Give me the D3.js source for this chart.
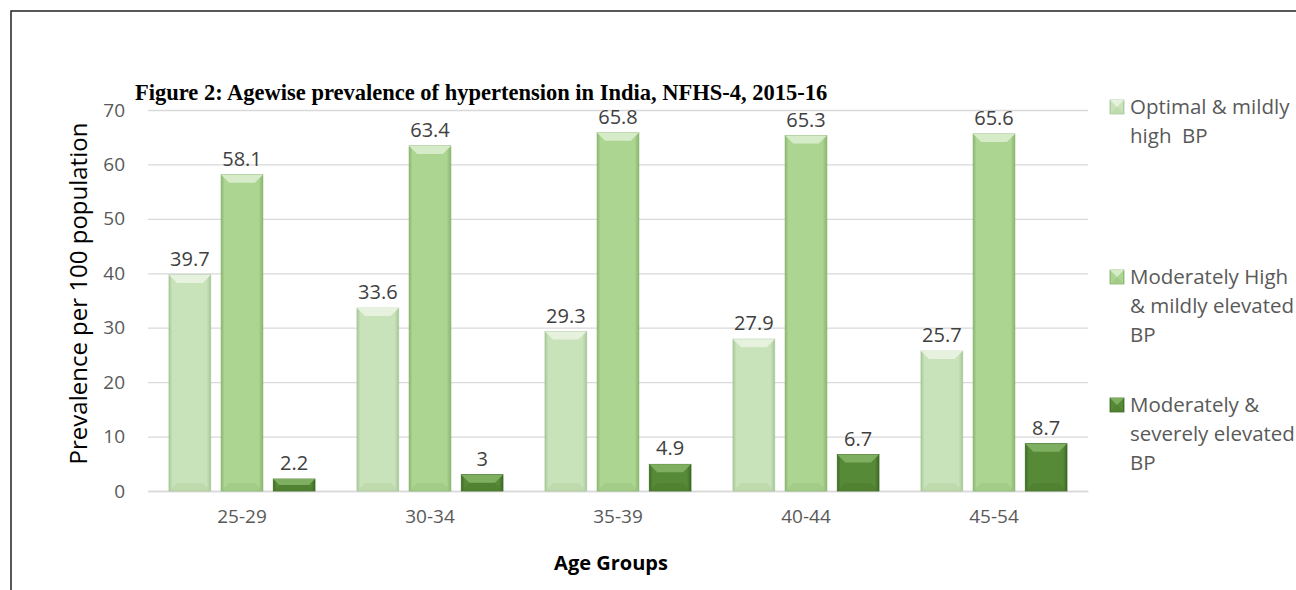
<!DOCTYPE html>
<html>
<head>
<meta charset="utf-8">
<script src="https://cdn.jsdelivr.net/npm/d3@7"></script>
<style>
  body { margin: 0; background: #fff; overflow: hidden; }
  svg { display: block; }
</style>
</head>
<body>
<script>
// Datos del gráfico
const categorias = ["25-29", "30-34", "35-39", "40-44", "45-54"];
const series = [
  "Optimal & mildly high  BP",
  "Moderately High & mildly elevated BP",
  "Moderately & severely elevated BP"
];
const optimo = [39.7, 33.6, 29.3, 27.9, 25.7];
const moderadoAlto = [58.1, 63.4, 65.8, 65.3, 65.6];
const severo = [2.2, 3, 4.9, 6.7, 8.7];
const ticksY = [0, 10, 20, 30, 40, 50, 60, 70];
const leyendaLineas = [
  ["Optimal & mildly", "high  BP"],
  ["Moderately High", "& mildly elevated", "BP"],
  ["Moderately &", "severely elevated", "BP"]
];

const WIDTH = 1296;
const HEIGHT = 590;
const MARGIN = { top: 110, bottom: 99, left: 148, right: 208 };
const WIDTHVIS = WIDTH - MARGIN.left - MARGIN.right;
const HEIGHTVIS = HEIGHT - MARGIN.top - MARGIN.bottom;
const FUENTE = "Open Sans, sans-serif";

const colores = [
  { base: "#c8e2b9", borde: "#a9c79a", luz: "#e6f2de", sombra: "#b5d3a4" },
  { base: "#acd592", borde: "#88b56d", luz: "#d6ecc8", sombra: "#97c47b" },
  { base: "#578a37", borde: "#3e6a24", luz: "#7eae5f", sombra: "#4a7a2d" }
];

const svg = d3.select("body").append("svg")
  .attr("width", WIDTH)
  .attr("height", HEIGHT);

// borde de la figura
svg.append("rect")
  .attr("x", 11).attr("y", 11)
  .attr("width", WIDTH + 20).attr("height", HEIGHT + 20)
  .attr("fill", "none")
  .attr("stroke", "#222")
  .attr("stroke-width", 1.5);

// gradientes horizontales para dar volumen
const defs = svg.append("defs");
colores.forEach((c, i) => {
  const g = defs.append("linearGradient")
    .attr("id", "grad" + i)
    .attr("x1", "0").attr("x2", "1").attr("y1", "0").attr("y2", "0");
  g.append("stop").attr("offset", "0%").attr("stop-color", c.borde);
  g.append("stop").attr("offset", "8%").attr("stop-color", c.base);
  g.append("stop").attr("offset", "90%").attr("stop-color", c.base);
  g.append("stop").attr("offset", "100%").attr("stop-color", c.borde);
});

// Título
svg.append("text")
  .attr("x", 135).attr("y", 100)
  .attr("font-family", "Liberation Serif, Times New Roman, serif")
  .attr("font-weight", "bold")
  .attr("font-size", 22.5)
  .attr("fill", "#000")
  .text("Figure 2: Agewise prevalence of hypertension in India, NFHS-4, 2015-16");

const vis = svg.append("g")
  .attr("transform", `translate(${MARGIN.left}, ${MARGIN.top})`);

const escalaY = d3.scaleLinear().domain([0, 70]).range([HEIGHTVIS, 0]);
const escalaX = d3.scaleBand().domain(categorias).range([0, WIDTHVIS]);
const escalaSerie = d3.scaleBand()
  .domain(d3.range(3))
  .range([21, escalaX.bandwidth() - 21])
  .paddingInner(0.2);

// lineas de grilla
const ejeY = d3.axisLeft(escalaY).tickValues(ticksY).tickSize(-WIDTHVIS).tickPadding(23);
const gY = vis.append("g").call(ejeY);
gY.select(".domain").remove();
gY.selectAll("line").attr("stroke", "#d9d9d9").attr("stroke-width", 1.3);
gY.selectAll("text")
  .attr("font-family", FUENTE)
  .attr("font-size", 19)
  .attr("fill", "#595959");

const ejeX = d3.axisBottom(escalaX).tickSize(0).tickPadding(19);
const gX = vis.append("g")
  .attr("transform", `translate(0, ${HEIGHTVIS})`)
  .call(ejeX);
gX.select(".domain").attr("stroke", "#d9d9d9").attr("stroke-width", 1.5);
gX.selectAll("text")
  .attr("font-family", FUENTE)
  .attr("font-size", 19)
  .attr("fill", "#595959");

// datos en formato largo
const datos = [];
categorias.forEach((cat, i) => {
  [optimo, moderadoAlto, severo].forEach((arr, s) => {
    datos.push({ categoria: cat, serie: s, valor: arr[i] });
  });
});

// barra con bisel
function dibujarBarra(g, x, y, w, h, c, gid) {
  const b = Math.min(8, h / 2, w / 2);
  g.append("rect")
    .attr("x", x).attr("y", y).attr("width", w).attr("height", h)
    .attr("fill", `url(#${gid})`)
    .attr("stroke", c.borde).attr("stroke-width", 0.8);
  // bisel superior
  g.append("polygon")
    .attr("points", [[x, y], [x + w, y], [x + w - b, y + b], [x + b, y + b]].map(p => p.join(",")).join(" "))
    .attr("fill", c.luz);
  // bisel inferior
  g.append("polygon")
    .attr("points", [[x, y + h], [x + w, y + h], [x + w - b, y + h - b], [x + b, y + h - b]].map(p => p.join(",")).join(" "))
    .attr("fill", c.sombra).attr("opacity", 0.5);
}

const barras = vis.selectAll("g.barra")
  .data(datos)
  .join("g")
  .attr("class", "barra");

barras.each(function (d) {
  const x = escalaX(d.categoria) + escalaSerie(d.serie);
  const y = escalaY(d.valor);
  const h = escalaY(0) - y;
  dibujarBarra(d3.select(this), x, y, escalaSerie.bandwidth(), h, colores[d.serie], "grad" + d.serie);
});

// etiquetas de datos
vis.selectAll("text.etiqueta")
  .data(datos)
  .join("text")
  .attr("class", "etiqueta")
  .attr("x", d => escalaX(d.categoria) + escalaSerie(d.serie) + escalaSerie.bandwidth() / 2)
  .attr("y", d => escalaY(d.valor) - 9)
  .attr("text-anchor", "middle")
  .attr("font-family", FUENTE)
  .attr("font-size", 20)
  .attr("fill", "#404040")
  .text(d => d.valor);

// titulos de ejes
svg.append("text")
  .attr("transform", `translate(87, ${MARGIN.top + HEIGHTVIS / 2 - 7}) rotate(-90)`)
  .attr("text-anchor", "middle")
  .attr("font-family", FUENTE)
  .attr("font-size", 24)
  .attr("fill", "#000")
  .text("Prevalence per 100 population");

svg.append("text")
  .attr("x", 611)
  .attr("y", 570)
  .attr("text-anchor", "middle")
  .attr("font-family", FUENTE)
  .attr("font-weight", "bold")
  .attr("font-size", 20)
  .attr("fill", "#000")
  .text("Age Groups");

// leyenda
const leyendaY = [114, 284, 412];
const leyenda = svg.append("g");
leyendaLineas.forEach((lineas, i) => {
  const c = colores[i];
  const gl = leyenda.append("g");
  dibujarBarra(gl, 1110, leyendaY[i] - 14, 14, 14, c, "grad" + i);
  const t = gl.append("text")
    .attr("x", 1130)
    .attr("y", leyendaY[i])
    .attr("font-family", FUENTE)
    .attr("font-size", 20.5)
    .attr("fill", "#595959");
  lineas.forEach((l, j) => {
    t.append("tspan")
      .attr("x", 1130)
      .attr("dy", j === 0 ? 0 : 29)
      .attr("xml:space", "preserve")
      .text(l);
  });
});
</script>
</body>
</html>
